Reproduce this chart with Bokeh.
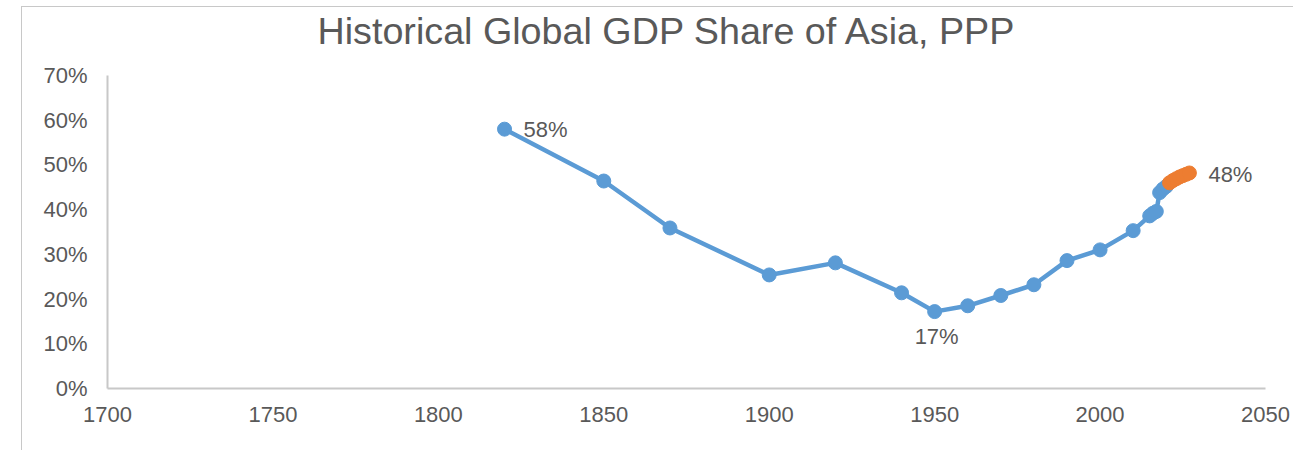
from bokeh.plotting import figure
from bokeh.models import Range1d, FixedTicker, NumeralTickFormatter, Label, ColumnDataSource, Title
from bokeh.embed import file_html
from bokeh.resources import INLINE

# Data
hist_years = [1820, 1850, 1870, 1900, 1920, 1940, 1950, 1960, 1970, 1980, 1990, 2000, 2010,
              2015, 2016, 2017, 2018, 2019, 2020]
hist_share = [0.580, 0.464, 0.359, 0.254, 0.281, 0.214, 0.172, 0.185, 0.208, 0.232, 0.286, 0.310, 0.353,
              0.386, 0.392, 0.396, 0.438, 0.446, 0.452]
proj_years = [2021, 2022, 2023, 2024, 2025, 2026, 2027]
proj_share = [0.460, 0.465, 0.469, 0.473, 0.476, 0.479, 0.482]
x_ticks = [1700, 1750, 1800, 1850, 1900, 1950, 2000, 2050]
y_ticks = [0.0, 0.1, 0.2, 0.3, 0.4, 0.5, 0.6, 0.7]
title_text = "Historical Global GDP Share of Asia, PPP"

BLUE = "#5b9bd5"
ORANGE = "#ed7d31"
TXT = "#595959"
FONT = "Liberation Sans"

p = figure(width=1272, height=444, output_backend="svg", toolbar_location=None,
           x_range=Range1d(1700, 2050), y_range=Range1d(0, 0.7),
           min_border_left=85, min_border_right=29, min_border_top=68, min_border_bottom=63)
p.styles = {"border-left": "1px solid #c8c8c8", "border-top": "1px solid #c8c8c8",
            "margin-left": "21px", "margin-top": "6px"}
p.title = None

# spacer between frame and title, then the title itself (stacked outward)
p.add_layout(Title(text=" ", text_font_size="1px", standoff=21), "above")
p.add_layout(Title(text=title_text, align="left", offset=210, standoff=0, vertical_align="bottom",
                   text_font=FONT, text_font_size="37.7px", text_font_style="normal",
                   text_color=TXT), "above")

p.outline_line_color = None
p.xgrid.grid_line_color = None
p.ygrid.grid_line_color = None

for ax in (p.xaxis, p.yaxis):
    ax.axis_line_color = "#c8c8c8"
    ax.axis_line_width = 2
    ax.major_tick_line_color = None
    ax.minor_tick_line_color = None
    ax.major_label_text_font = FONT
    ax.major_label_text_font_size = "22px"
    ax.major_label_text_color = TXT

p.xaxis.ticker = FixedTicker(ticks=x_ticks)
p.yaxis.ticker = FixedTicker(ticks=y_ticks)
p.yaxis.formatter = NumeralTickFormatter(format="0%")
p.xaxis.major_label_standoff = 12
p.yaxis.major_label_standoff = 14

hist = ColumnDataSource(dict(x=hist_years, y=hist_share))
proj = ColumnDataSource(dict(x=proj_years, y=proj_share))

p.line("x", "y", source=hist, line_color=BLUE, line_width=4.5)
p.scatter("x", "y", source=hist, size=14, fill_color=BLUE, line_color=BLUE)
p.line("x", "y", source=proj, line_color=ORANGE, line_width=4.5)
p.scatter("x", "y", source=proj, size=14, fill_color=ORANGE, line_color=ORANGE)

def pct(v):
    return f"{round(v * 100)}%"

lbl_kw = dict(text_font=FONT, text_font_size="22px", text_color=TXT)
i_max = hist_share.index(max(hist_share))
i_min = hist_share.index(min(hist_share))
p.add_layout(Label(x=hist_years[i_max], y=hist_share[i_max], text=pct(hist_share[i_max]),
                   x_offset=19, text_align="left", text_baseline="middle", **lbl_kw))
p.add_layout(Label(x=hist_years[i_min], y=hist_share[i_min], text=pct(hist_share[i_min]),
                   x_offset=2, y_offset=-12, text_align="center", text_baseline="top", **lbl_kw))
p.add_layout(Label(x=proj_years[-1], y=proj_share[-1], text=pct(proj_share[-1]),
                   x_offset=19, y_offset=-2, text_align="left", text_baseline="middle", **lbl_kw))

open("out.html", "w").write(file_html(p, INLINE))
